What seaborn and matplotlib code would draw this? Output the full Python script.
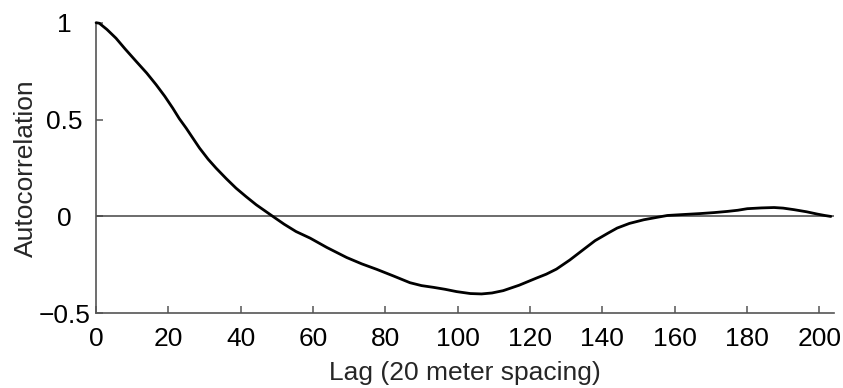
import matplotlib
matplotlib.use("Agg")
import matplotlib.pyplot as plt
import seaborn as sns
import pandas as pd

lag = [0, 0.9, 3, 5.5, 8, 11.1, 14, 16.6, 19, 21.2, 23, 24.9, 26.8, 28.6, 31,
       33.2, 36, 38.7, 41.5, 44.3, 46.6, 48.9, 52, 55.3, 59.2, 63.8, 69.3, 73.5,
       77.6, 82.2, 86.8, 90, 93.3, 96.5, 99.7, 103.5, 106.6, 109.5, 112.6, 117,
       121.8, 124.5, 127.3, 131, 134.7, 138, 141.6, 144.1, 147.5, 151.5, 155,
       158, 162.5, 167.2, 171, 174.6, 177.5, 180.1, 184, 187.5, 190, 193, 196.5,
       199.5, 201.5, 203.2]
acf = [1.0, 0.997, 0.965, 0.92, 0.865, 0.80, 0.74, 0.68, 0.62, 0.559, 0.505,
       0.456, 0.403, 0.353, 0.295, 0.249, 0.195, 0.146, 0.102, 0.060, 0.030, 0.0,
       -0.040, -0.078, -0.112, -0.160, -0.212, -0.245, -0.273, -0.307, -0.342,
       -0.357, -0.366, -0.376, -0.388, -0.398, -0.400, -0.395, -0.383, -0.355,
       -0.318, -0.298, -0.272, -0.225, -0.172, -0.125, -0.086, -0.060, -0.036,
       -0.017, -0.005, 0.005, 0.010, 0.015, 0.020, 0.026, 0.032, 0.040, 0.044,
       0.046, 0.043, 0.035, 0.024, 0.012, 0.005, 0.0]

x_ticks = [0, 20, 40, 60, 80, 100, 120, 140, 160, 180, 200]
y_ticks = [-0.5, 0, 0.5, 1]
y_tick_labels = ["\u22120.5", "0", "0.5", "1"]

df = pd.DataFrame({"lag": lag, "acf": acf})

sns.set_style("ticks")
plt.rcParams["font.family"] = ["Liberation Sans", "DejaVu Sans"]

fig = plt.figure(figsize=(8.43, 3.88), dpi=100)
ax = fig.add_axes([0.114, 0.1925, 0.875, 0.749])

ax.axhline(0, color="#444444", lw=1.1, zorder=1)
sns.lineplot(data=df, x="lag", y="acf", ax=ax, color="black", lw=2.0,
             clip_on=False, zorder=3, solid_joinstyle="round",
             solid_capstyle="round")

ax.set_xlim(0, 204)
ax.set_ylim(-0.5, 1.0)
ax.set_xticks(x_ticks)
ax.set_yticks(y_ticks)
ax.set_yticklabels(y_tick_labels)

for s in ["top", "right"]:
    ax.spines[s].set_visible(False)
for s in ["left", "bottom"]:
    ax.spines[s].set_color("#555555")
    ax.spines[s].set_linewidth(1.2)

ax.tick_params(axis="both", direction="in", length=5, width=1.1, color="#555555",
               labelsize=19, labelcolor="black")
ax.tick_params(axis="x", pad=10)
ax.tick_params(axis="y", pad=23)
for lbl in ax.get_yticklabels():
    lbl.set_horizontalalignment("center")

ax.set_xlabel("Lag (20 meter spacing)", fontsize=19, labelpad=7)
ax.set_ylabel("Autocorrelation", fontsize=19, labelpad=0.5)

fig.savefig("out.png", dpi=100)
